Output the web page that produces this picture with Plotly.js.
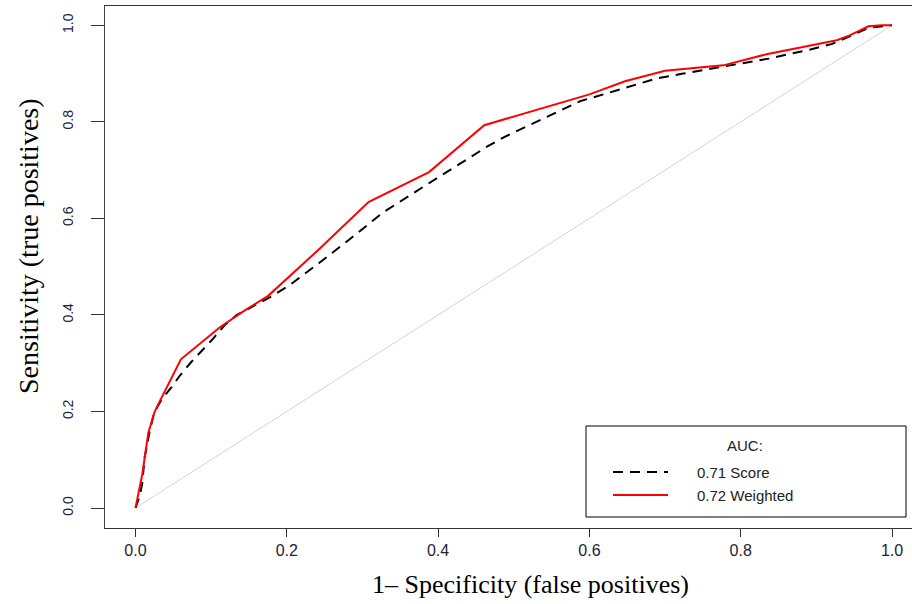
<!DOCTYPE html>
<html>
<head>
<meta charset="utf-8">
<script src="https://cdn.plot.ly/plotly-3.0.1.min.js"></script>
<style>html,body{margin:0;padding:0;background:#fff}#chart{width:912px;height:604px}</style>
</head>
<body>
<div id="chart"></div>
<script>
// Weighted ROC curve (red)
var weightedFPR = [0, 0.009, 0.017, 0.025, 0.033, 0.046, 0.060, 0.112, 0.145, 0.175, 0.244, 0.308, 0.388, 0.461, 0.517, 0.600, 0.647, 0.700, 0.777, 0.834, 0.927, 0.944, 0.969, 0.986, 1.0];
var weightedTPR = [0, 0.070, 0.156, 0.198, 0.224, 0.265, 0.308, 0.375, 0.410, 0.439, 0.538, 0.634, 0.696, 0.793, 0.819, 0.857, 0.884, 0.906, 0.917, 0.940, 0.969, 0.979, 0.998, 1.0, 1.0];
// Score ROC curve (black dashed)
var scoreFPR = [0, 0.006, 0.009, 0.012, 0.019, 0.025, 0.035, 0.048, 0.059, 0.074, 0.101, 0.118, 0.134, 0.178, 0.204, 0.244, 0.284, 0.328, 0.380, 0.425, 0.464, 0.488, 0.539, 0.588, 0.623, 0.689, 0.724, 0.781, 0.837, 0.892, 0.920, 0.944, 0.969, 1.0];
var scoreTPR = [0, 0.027, 0.052, 0.104, 0.161, 0.199, 0.226, 0.251, 0.275, 0.303, 0.348, 0.379, 0.400, 0.437, 0.462, 0.509, 0.558, 0.613, 0.665, 0.710, 0.748, 0.769, 0.807, 0.843, 0.859, 0.890, 0.900, 0.916, 0.931, 0.950, 0.961, 0.977, 0.995, 1.0];
// Chance diagonal
var diagX = [0, 1];
var diagY = [0, 1];
var tickVals = [0, 0.2, 0.4, 0.6, 0.8, 1.0];
var tickText = ["0.0", "0.2", "0.4", "0.6", "0.8", "1.0"];
var legendTitle = "AUC:";
var legendLabels = ["0.71 Score", "0.72 Weighted"];

var W = 912, H = 604;
var L = 105, R = 0, T = 6, B = 76;
var pw = W - L - R, ph = H - T - B;
function px(x){ return (x - L) / pw; }
function py(y){ return (H - B - y) / ph; }

var traces = [
  {x: diagX, y: diagY, mode: 'lines', line: {color: '#d4d4d4', width: 1}, hoverinfo: 'skip'},
  {x: scoreFPR, y: scoreTPR, mode: 'lines', line: {color: '#000', width: 2, dash: '10px,7px'}},
  {x: weightedFPR, y: weightedTPR, mode: 'lines', line: {color: '#ff0000', width: 2}}
];

var serif = 'Liberation Serif, Times New Roman, serif';
var sans = 'Liberation Sans, Arial, sans-serif';

var layout = {
  width: W, height: H,
  margin: {l: L, r: R, t: T, b: B, pad: 0},
  showlegend: false,
  paper_bgcolor: '#fff', plot_bgcolor: '#fff',
  xaxis: {
    range: [-0.0403, 1.0264], tickvals: tickVals, ticktext: tickText,
    ticks: 'outside', ticklen: 8, tickcolor: '#333', tickwidth: 1,
    showline: true, linecolor: '#333', linewidth: 1, mirror: true,
    showgrid: false, zeroline: false,
    tickfont: {family: sans, size: 16, color: '#1c2433'}
  },
  yaxis: {
    range: [-0.0414, 1.040], tickvals: tickVals, ticktext: tickText,
    ticks: 'outside', ticklen: 13, tickcolor: '#333', tickwidth: 1,
    showline: true, linecolor: '#444', linewidth: 1,
    showgrid: false, zeroline: false, tickangle: -90, ticklabelstandoff: 12,
    tickfont: {family: sans, size: 14, color: '#1c2433'}
  },
  shapes: [
    {type: 'rect', xref: 'paper', yref: 'paper', x0: px(586), x1: px(906), y0: py(517), y1: py(426), line: {color: '#000', width: 1}, fillcolor: 'rgba(255,255,255,1)'},
    {type: 'line', xref: 'paper', yref: 'paper', x0: px(613), x1: px(668), y0: py(472), y1: py(472), line: {color: '#000', width: 2, dash: '10px,7px'}},
    {type: 'line', xref: 'paper', yref: 'paper', x0: px(613), x1: px(668), y0: py(495), y1: py(495), line: {color: '#ff0000', width: 2}}
  ],
  annotations: [
    {xref: 'paper', yref: 'paper', x: px(745), y: py(445), text: legendTitle, showarrow: false, xanchor: 'center', yanchor: 'middle', font: {family: sans, size: 15, color: '#222'}},
    {xref: 'paper', yref: 'paper', x: px(695), y: py(472), text: legendLabels[0], showarrow: false, xanchor: 'left', yanchor: 'middle', font: {family: sans, size: 15, color: '#222'}},
    {xref: 'paper', yref: 'paper', x: px(695), y: py(495), text: legendLabels[1], showarrow: false, xanchor: 'left', yanchor: 'middle', font: {family: sans, size: 15, color: '#222'}},
    {xref: 'paper', yref: 'paper', x: px(530), y: py(584), text: '1\u2013 Specificity (false positives)', showarrow: false, xanchor: 'center', yanchor: 'middle', font: {family: serif, size: 26, color: '#000'}},
    {xref: 'paper', yref: 'paper', x: px(28), y: py(246), text: 'Sensitivity (true positives)', showarrow: false, textangle: -90, xanchor: 'center', yanchor: 'middle', font: {family: serif, size: 28, color: '#000'}}
  ]
};

Plotly.newPlot('chart', traces, layout, {displayModeBar: false, staticPlot: true});
</script>
</body>
</html>
